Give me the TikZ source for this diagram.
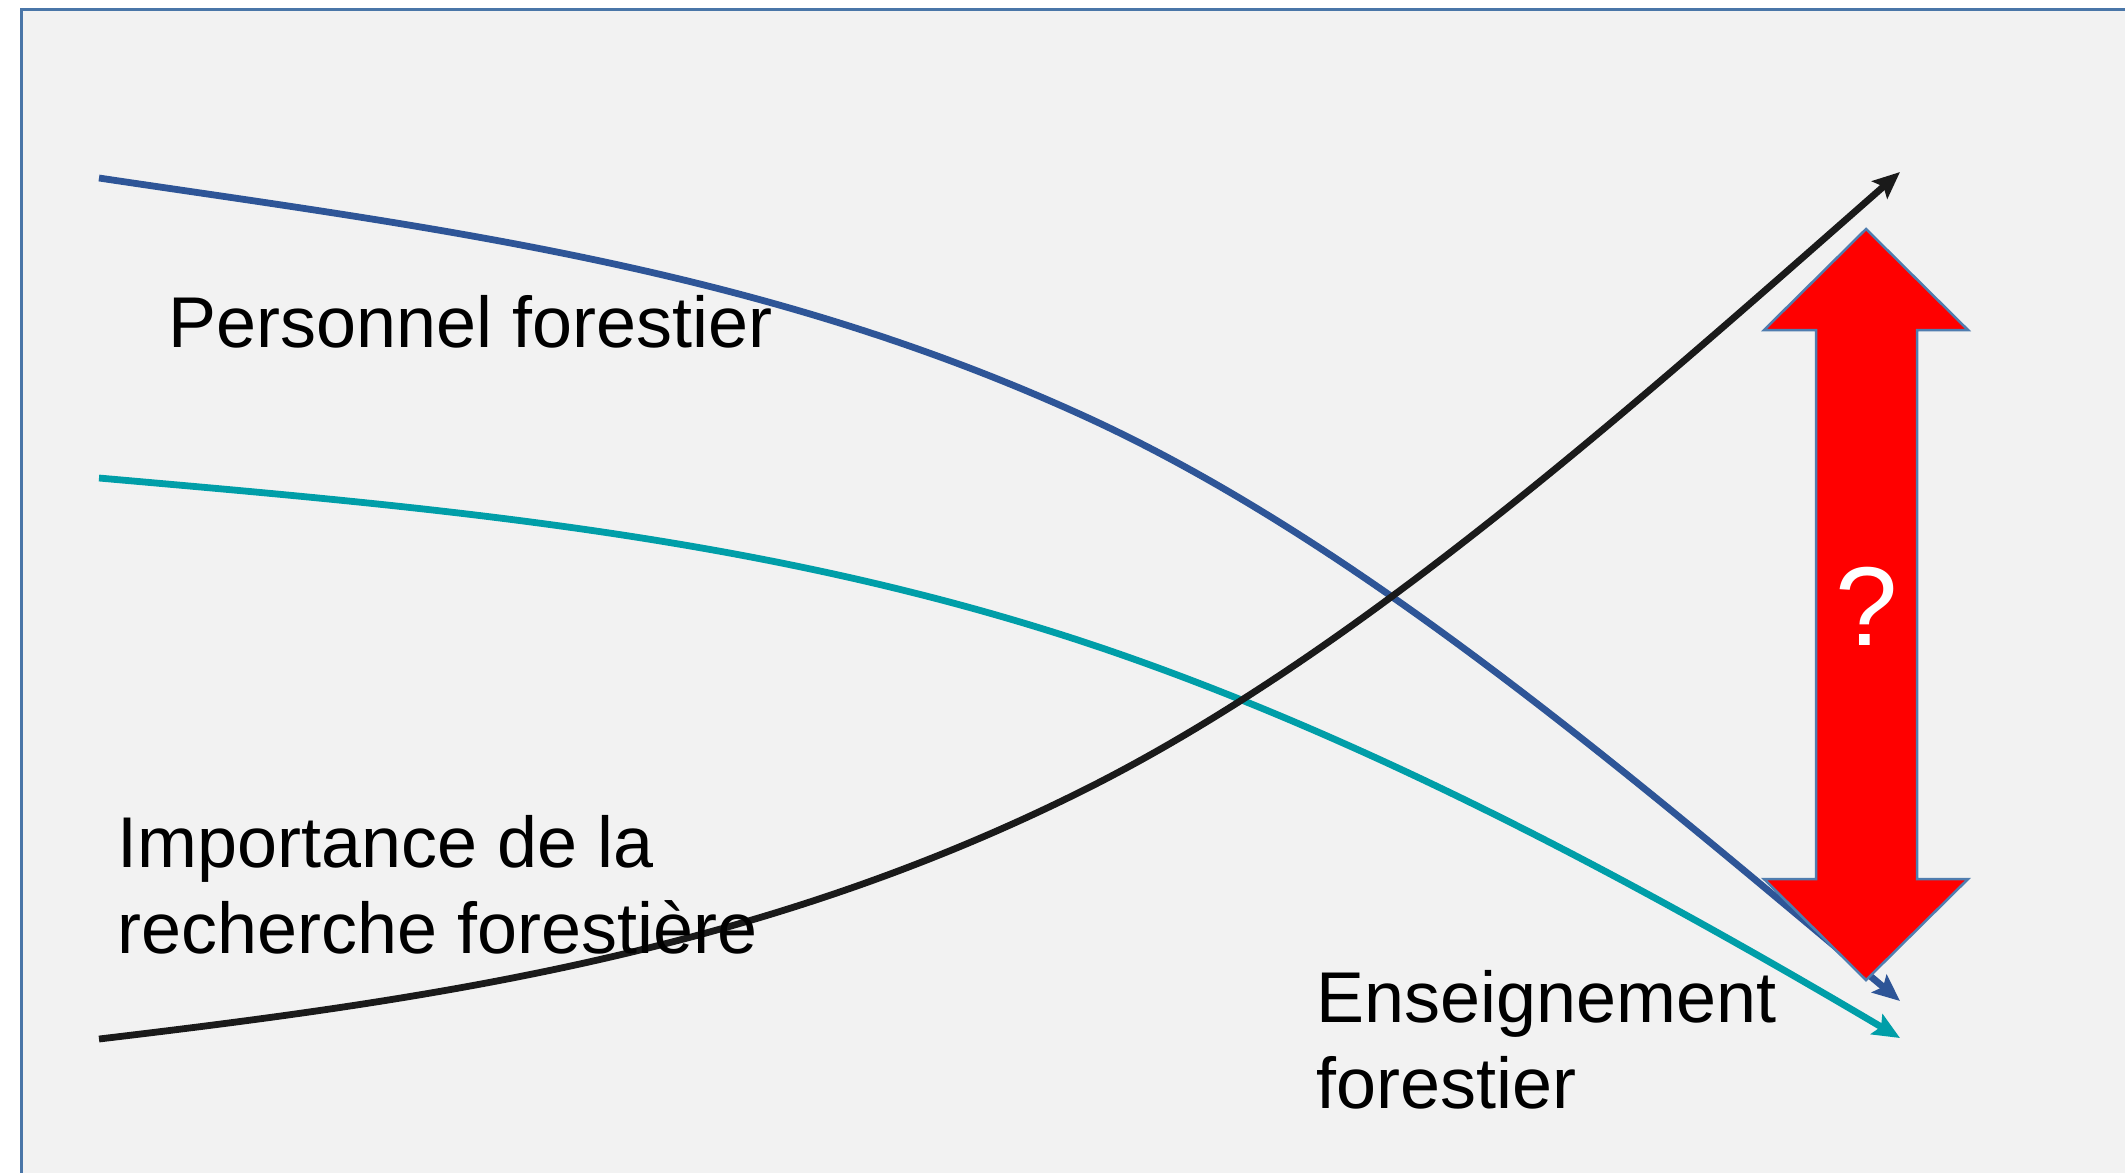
\documentclass[tikz,border=0pt]{standalone}
\usepackage{fontspec}
\setmainfont{Liberation Sans}
\usetikzlibrary{arrows.meta}
\definecolor{bgfill}{RGB}{242,242,242}
\definecolor{framecol}{RGB}{74,118,168}
\definecolor{bluecurve}{RGB}{46,85,151}
\definecolor{tealcurve}{RGB}{0,158,168}
\definecolor{blackcurve}{RGB}{26,26,26}
\definecolor{arrowred}{RGB}{255,0,0}
\definecolor{arrowline}{RGB}{80,125,175}
\begin{document}
\begin{tikzpicture}[x=0.01cm,y=-0.01cm,
  trend/.style={line width=0.068cm, -{Stealth[length=0.27cm,width=0.23cm,inset=0.05cm]}},
  txt/.style={font=\fontsize{20.45pt}{24.45pt}\selectfont, inner sep=0pt, anchor=base west, align=left},
  bigarrow/.style={fill=arrowred, draw=arrowline, line width=0.025cm, line join=miter}]
\clip (0,0) rectangle (2125,1172);
\fill[white] (0,0) rectangle (2125,1172);
\draw[framecol, fill=bgfill, line width=0.03cm] (21.5,9) rectangle (2200,1250);

% curves
\coordinate (bS) at (99,178);
\coordinate (bM) at (1084,416);
\coordinate (bE) at (1900,1001);
\coordinate (tS) at (99,478);
\coordinate (tM) at (1084,642);
\coordinate (tE) at (1900,1038);
\coordinate (kS) at (99,1039);
\coordinate (kM) at (1084,790);
\coordinate (kE) at (1900,172);
\draw[trend, bluecurve] (bS) .. controls (427,227) and (756,266) .. (bM)
  .. controls (1356,540) and (1628,773) .. (bE);
\draw[trend, tealcurve] (tS) .. controls (427,507) and (756,534) .. (tM)
  .. controls (1356,732) and (1628,877) .. (tE);
\draw[trend, blackcurve] (kS) .. controls (427,1000) and (756,954) .. (kM)
  .. controls (1356,654) and (1628,411) .. (kE);

% red double arrow
\draw[bigarrow] (1866,229) -- (1968,330) -- (1917,330) -- (1917,879) -- (1968,879)
  -- (1866,980) -- (1764,879) -- (1816,879) -- (1816,330) -- (1764,330) -- cycle;
\node[text=white, font=\fontsize{31.9pt}{38pt}\selectfont, inner sep=0pt] (q) at (1867,606) {?};

% labels
\node[txt] (pf) at (168,347) {Personnel forestier};
\node[txt] (irf) at (117,953) {Importance de la\\recherche forestière};
\node[txt] (ef) at (1316,1108) {Enseignement\\forestier};
\end{tikzpicture}
\end{document}
